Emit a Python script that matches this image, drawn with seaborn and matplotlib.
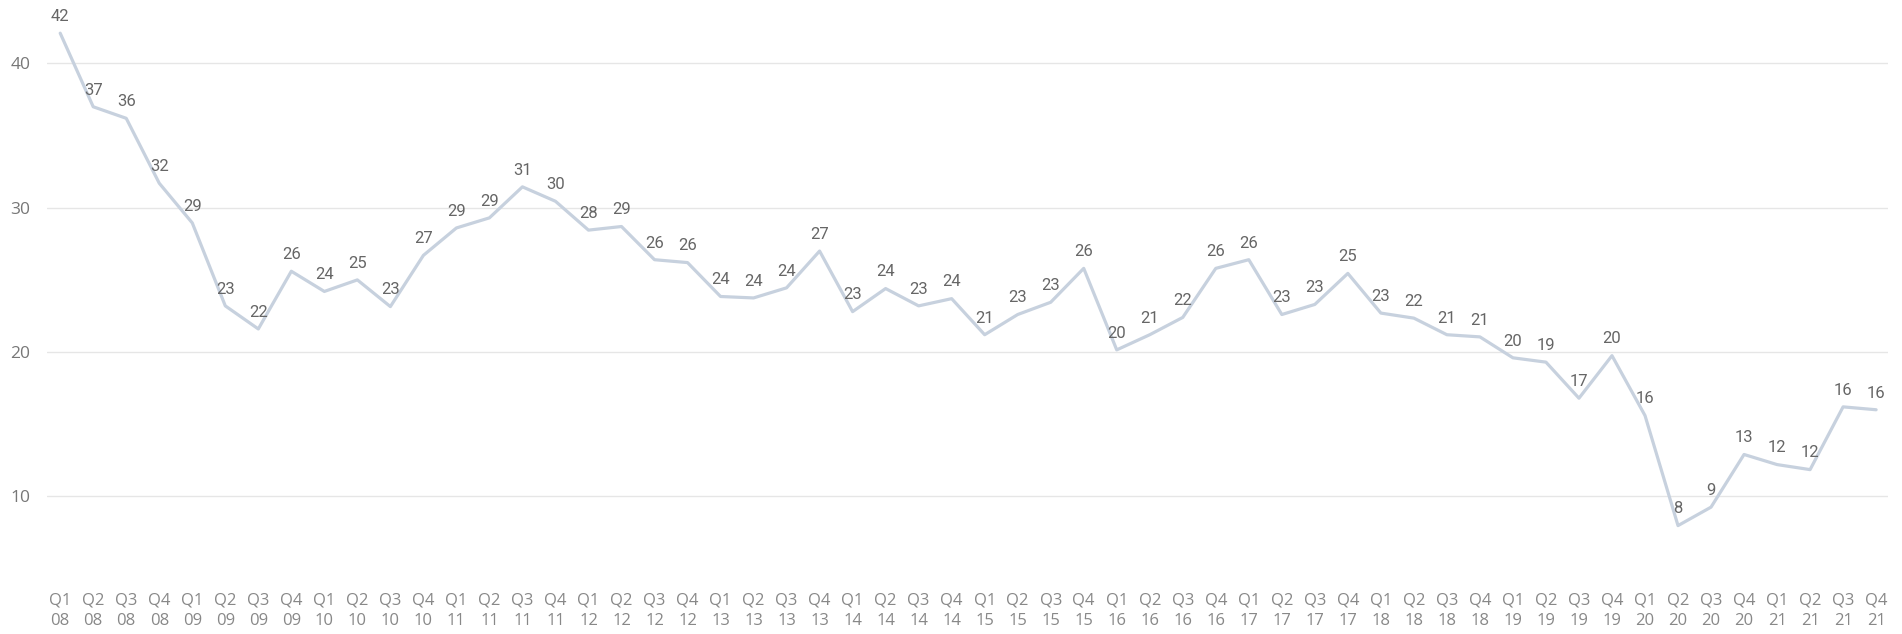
import matplotlib
matplotlib.use("Agg")
import matplotlib.pyplot as plt
import seaborn as sns
import pandas as pd
import numpy as np

quarters = ["Q1", "Q2", "Q3", "Q4"]
years = ["08", "09", "10", "11", "12", "13", "14", "15", "16", "17", "18", "19", "20", "21"]
tick_labels = [f"{q}\n{y}" for y in years for q in quarters]

values = [42.1, 37.0, 36.2, 31.7, 28.95, 23.2, 21.6, 25.6,
          24.2, 25.0, 23.15, 26.7, 28.6, 29.3, 31.45, 30.45,
          28.45, 28.7, 26.4, 26.2, 23.85, 23.75, 24.45, 27.0,
          22.8, 24.4, 23.2, 23.7, 21.2, 22.6, 23.45, 25.8,
          20.15, 21.2, 22.4, 25.8, 26.4, 22.6, 23.3, 25.45,
          22.7, 22.35, 21.2, 21.05, 19.6, 19.3, 16.8, 19.75,
          15.6, 7.97, 9.25, 12.9, 12.2, 11.85, 16.2, 16.0]

y_ticks = [10, 20, 30, 40]

df = pd.DataFrame({"idx": np.arange(len(values)), "value": values, "label": tick_labels})

sns.set_theme(style="white")
plt.rcParams["font.family"] = ["Open Sans", "DejaVu Sans"]

fig = plt.figure(figsize=(19.02, 6.34), dpi=100)
ax = fig.add_axes([47 / 1902, 54 / 634, (1888 - 47) / 1902, 580 / 634])

sns.lineplot(data=df, x="idx", y="value", ax=ax, color="#c7d1de", linewidth=2.3, zorder=3)

for i, v in enumerate(values):
    ax.annotate(f"{round(v):d}", (i, v), xytext=(0, 12), textcoords="offset points",
                ha="center", va="center", fontsize=12, color="#666666",
                family=["Roboto", "DejaVu Sans"], zorder=4)

ax.set_xlim(-0.4, len(values) - 1 + 0.36)
ax.set_ylim(4.2, 44.4)
ax.set_yticks(y_ticks)
ax.set_yticklabels([str(t) for t in y_ticks])
ax.set_xticks(df["idx"])
ax.set_xticklabels(tick_labels, linespacing=1.35)
ax.grid(axis="y", color="#e6e6e6", linewidth=1.0, zorder=0)
ax.grid(axis="x", visible=False)
for s in ax.spines.values():
    s.set_visible(False)
ax.tick_params(axis="y", length=0, pad=12, labelsize=12.5, labelcolor="#777777")
ax.tick_params(axis="x", length=0, pad=9, labelsize=12, labelcolor="#888888")
ax.set_xlabel("")
ax.set_ylabel("")

fig.savefig("out.png", dpi=100)
